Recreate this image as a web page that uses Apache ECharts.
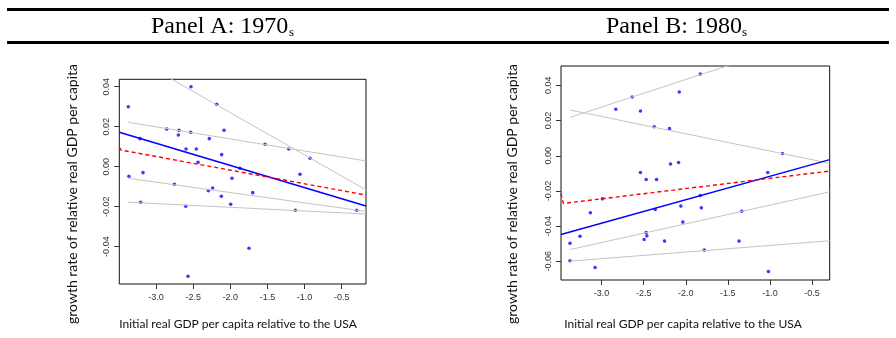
<!DOCTYPE html>
<html><head><meta charset="utf-8">
<script src="https://cdn.jsdelivr.net/npm/echarts@6/dist/echarts.min.js"></script>
<style>html,body{margin:0;padding:0;background:#fff}#c{width:896px;height:338px}</style>
</head><body><div id="c"></div>
<script>
// ---------- Panel A (1970s) ----------
const ptsA_x = [-3.373,-2.529,-2.183,-2.856,-2.690,-2.699,-2.533,-2.084,-3.215,-2.282,-1.532,-2.596,-2.457,-1.214,-2.116,-0.926,-2.434,-1.869,-3.364,-3.175,-1.061,-1.977,-2.753,-2.237,-2.295,-1.698,-2.120,-3.206,-1.995,-2.600,-1.124,-0.298,-1.748,-2.569];
const ptsA_y = [0.0300,0.0400,0.0312,0.0188,0.0182,0.0158,0.0172,0.0182,0.0140,0.0140,0.0112,0.0088,0.0088,0.0088,0.0060,0.0042,0.0022,-0.0008,-0.0048,-0.0030,-0.0038,-0.0058,-0.0088,-0.0107,-0.0120,-0.0130,-0.0148,-0.0178,-0.0188,-0.0198,-0.0218,-0.0218,-0.0408,-0.0548];
const blueA_x = [-3.494,-0.173], blueA_y = [0.01717,-0.01965];
const redA_x = [-3.494,-3.470,-0.173], redA_y = [0.0097,0.0083,-0.0142];
const grayA1_x = [-3.373,-0.173], grayA1_y = [0.0561,-0.01165];
const grayA2_x = [-3.373,-0.173], grayA2_y = [0.02217,0.00285];
const grayA3_x = [-3.373,-0.173], grayA3_y = [-0.00583,-0.0224];
const grayA4_x = [-3.373,-0.173], grayA4_y = [-0.0178,-0.0237];
const xTicksA = [-3.0,-2.5,-2.0,-1.5,-1.0,-0.5];
const yTicksA = [-0.04,-0.02,0.00,0.02,0.04];
const xRangeA = [-3.494,-0.173], yRangeA = [-0.0587,0.0437];

// ---------- Panel B (1980s) ----------
const ptsB_x = [-1.827,-2.077,-2.637,-2.831,-2.538,-2.375,-2.193,-0.851,-2.085,-2.181,-2.538,-1.026,-2.470,-2.347,-1.827,-2.990,-3.133,-2.058,-1.815,-2.363,-1.335,-2.034,-2.470,-2.462,-3.256,-2.494,-2.252,-1.367,-3.375,-1.780,-3.375,-3.077,-1.018];
const ptsB_y = [0.0464,0.0362,0.0334,0.0264,0.0254,0.0165,0.0154,0.0013,-0.0038,-0.0047,-0.0095,-0.0095,-0.0135,-0.0135,-0.0226,-0.0245,-0.0324,-0.0286,-0.0296,-0.0305,-0.0315,-0.0377,-0.0436,-0.0455,-0.0457,-0.0476,-0.0485,-0.0485,-0.0497,-0.0536,-0.0597,-0.0635,-0.0658];
const blueB_x = [-3.482,-0.290], blueB_y = [-0.0447,-0.0022];
const redB_x = [-3.482,-3.454,-0.290], redB_y = [-0.0214,-0.0271,-0.0087];
const grayB1_x = [-3.375,-0.290], grayB1_y = [0.0218,0.0701];
const grayB2_x = [-3.375,-0.290], grayB2_y = [0.0260,-0.0043];
const grayB3_x = [-3.375,-0.290], grayB3_y = [-0.0533,-0.0205];
const grayB4_x = [-3.375,-0.290], grayB4_y = [-0.0599,-0.0483];
const xTicksB = [-3.0,-2.5,-2.0,-1.5,-1.0,-0.5];
const yTicksB = [-0.06,-0.04,-0.02,0.00,0.02,0.04];
const xRangeB = [-3.482,-0.290], yRangeB = [-0.0706,0.0510];

const panelTitles = ['Panel A: 1970', 'Panel B: 1980'];
const yTitle = 'growth rate of relative real GDP per capita';
const xTitle = 'Initial real GDP per capita relative to the USA';

const zip = (xs, ys) => xs.map((x, i) => [x, ys[i]]);
const tickFont = {fontFamily: 'Liberation Sans', fontSize: 9, color: '#333'};

function xAxis(idx, range, ticks) {
  return {type: 'value', gridIndex: idx, min: range[0], max: range[1],
    axisLine: {show: false, onZero: false}, splitLine: {show: false},
    axisTick: {show: true, length: 5, lineStyle: {color: '#333'}, customValues: ticks},
    axisLabel: Object.assign({margin: 9, customValues: ticks, formatter: v => v.toFixed(1)}, tickFont)};
}
function yAxis(idx, range, ticks) {
  return {type: 'value', gridIndex: idx, min: range[0], max: range[1],
    axisLine: {show: false, onZero: false}, splitLine: {show: false},
    axisTick: {show: true, length: 5, lineStyle: {color: '#333'}, customValues: ticks},
    axisLabel: Object.assign({margin: 8, rotate: 90, customValues: ticks, formatter: v => v.toFixed(2)}, tickFont)};
}
function lineS(idx, xs, ys, color, width, type, z) {
  return {type: 'line', xAxisIndex: idx, yAxisIndex: idx, data: zip(xs, ys), symbol: 'none',
    silent: true, clip: true, z: z, animation: false,
    lineStyle: {color: color, width: width, type: type}};
}
function scat(idx, xs, ys) {
  return {type: 'scatter', xAxisIndex: idx, yAxisIndex: idx, data: zip(xs, ys), symbol: 'circle',
    symbolSize: 3.6, itemStyle: {color: '#0a0aff'}, z: 2, animation: false, silent: true};
}

const chart = echarts.init(document.getElementById('c'), null, {renderer: 'canvas'});
const gray = '#c4c4c4';
chart.setOption({
  animation: false,
  grid: [
    {left: 119.3, top: 79.3, width: 246.7, height: 204.7, show: true, borderColor: '#111', borderWidth: 1, backgroundColor: 'transparent'},
    {left: 561, top: 66, width: 268.7, height: 214, show: true, borderColor: '#111', borderWidth: 1, backgroundColor: 'transparent'}
  ],
  xAxis: [xAxis(0, xRangeA, xTicksA), xAxis(1, xRangeB, xTicksB)],
  yAxis: [yAxis(0, yRangeA, yTicksA), yAxis(1, yRangeB, yTicksB)],
  series: [
    scat(0, ptsA_x, ptsA_y),
    lineS(0, grayA1_x, grayA1_y, gray, 1, 'solid', 3),
    lineS(0, grayA2_x, grayA2_y, gray, 1, 'solid', 3),
    lineS(0, grayA3_x, grayA3_y, gray, 1, 'solid', 3),
    lineS(0, grayA4_x, grayA4_y, gray, 1, 'solid', 3),
    lineS(0, blueA_x, blueA_y, '#0000ff', 1.5, 'solid', 4),
    lineS(0, redA_x, redA_y, '#ff0000', 1.4, [4, 3], 5),
    scat(1, ptsB_x, ptsB_y),
    lineS(1, grayB1_x, grayB1_y, gray, 1, 'solid', 3),
    lineS(1, grayB2_x, grayB2_y, gray, 1, 'solid', 3),
    lineS(1, grayB3_x, grayB3_y, gray, 1, 'solid', 3),
    lineS(1, grayB4_x, grayB4_y, gray, 1, 'solid', 3),
    lineS(1, blueB_x, blueB_y, '#0000ff', 1.5, 'solid', 4),
    lineS(1, redB_x, redB_y, '#ff0000', 1.4, [4, 3], 5)
  ],
  graphic: [
    {type: 'rect', shape: {x: 7, y: 8, width: 882, height: 3}, style: {fill: '#000'}},
    {type: 'rect', shape: {x: 7, y: 41, width: 882, height: 3}, style: {fill: '#000'}},
    {type: 'text', x: 151, y: 27, style: {text: panelTitles[0], font: '24px "Liberation Serif"', fill: '#000', verticalAlign: 'middle'}},
    {type: 'text', x: 289, y: 33, style: {text: 's', font: '13px "Liberation Serif"', fill: '#000', verticalAlign: 'middle'}},
    {type: 'text', x: 606, y: 27, style: {text: panelTitles[1], font: '24px "Liberation Serif"', fill: '#000', verticalAlign: 'middle'}},
    {type: 'text', x: 742, y: 33, style: {text: 's', font: '13px "Liberation Serif"', fill: '#000', verticalAlign: 'middle'}},
    {type: 'text', x: 72, y: 194, rotation: Math.PI / 2, style: {text: yTitle, font: '14px Lato', fill: '#111', align: 'center', verticalAlign: 'middle'}},
    {type: 'text', x: 512, y: 194, rotation: Math.PI / 2, style: {text: yTitle, font: '14px Lato', fill: '#111', align: 'center', verticalAlign: 'middle'}},
    {type: 'text', x: 238, y: 324, style: {text: xTitle, font: '12px Lato', fill: '#111', align: 'center', verticalAlign: 'middle'}},
    {type: 'text', x: 683, y: 324, style: {text: xTitle, font: '12px Lato', fill: '#111', align: 'center', verticalAlign: 'middle'}}
  ]
});
</script></body></html>
